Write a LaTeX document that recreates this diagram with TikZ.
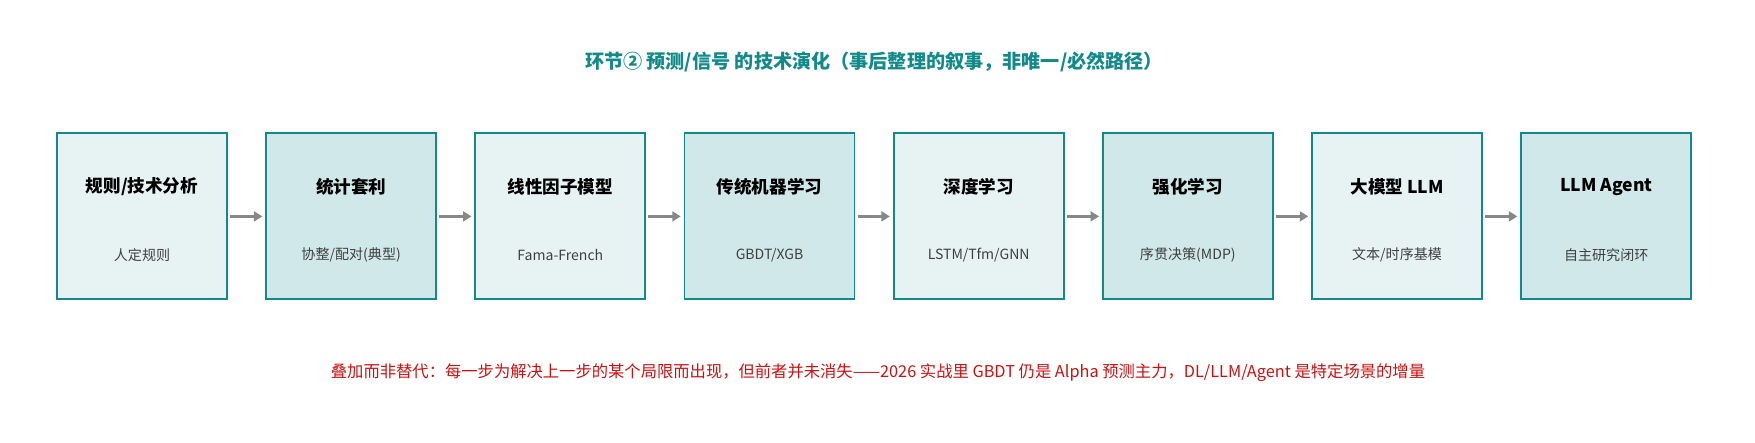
\documentclass[tikz,border=0pt]{standalone}
\usepackage{fontspec}
\setmainfont{Noto Sans CJK SC}
\usetikzlibrary{arrows.meta, positioning}
\definecolor{tealline}{HTML}{138A8A}
\definecolor{fillA}{HTML}{E7F3F3}
\definecolor{fillB}{HTML}{D0E8E9}
\definecolor{noteRed}{HTML}{CC1111}
\definecolor{arrowGray}{HTML}{888888}
\begin{document}
\begin{tikzpicture}[
    stage/.style={draw=tealline, line width=1.4pt, minimum width=4.25cm, minimum height=4.15cm, inner sep=0pt},
    stagetitle/.style={font=\fontsize{12.5}{14}\selectfont\bfseries},
    stagesub/.style={font=\fontsize{10}{12}\selectfont, text=black!75},
    flow/.style={draw=arrowGray, line width=2pt, -{Triangle[length=6pt, width=7pt]}},
    node distance=0.93cm
]
    % Frame
    \useasboundingbox (0,0) rectangle (43.875,-11.05);
    % Title
    \node[font=\fontsize{13.6}{16}\selectfont\bfseries, text=tealline] (title) at (21.85,-1.55)
        {环节② 预测/信号 的技术演化（事后整理的叙事，非唯一/必然路径）};
    % Stages
    \node[stage, fill=fillA] (b1) at (3.55,-5.41) {};
    \node[stage, fill=fillB, right=of b1] (b2) {};
    \node[stage, fill=fillA, right=of b2] (b3) {};
    \node[stage, fill=fillB, right=of b3] (b4) {};
    \node[stage, fill=fillA, right=of b4] (b5) {};
    \node[stage, fill=fillB, right=of b5] (b6) {};
    \node[stage, fill=fillA, right=of b6] (b7) {};
    \node[stage, fill=fillB, right=of b7] (b8) {};
    % Texts
    \foreach \i/\t/\s in {1/{规则/技术分析}/人定规则, 2/统计套利/{协整/配对(典型)}, 3/线性因子模型/Fama-French,
        4/传统机器学习/{GBDT/XGB}, 5/深度学习/{LSTM/Tfm/GNN}, 6/强化学习/序贯决策(MDP),
        7/大模型 LLM/{文本/时序基模}, 8/LLM Agent/自主研究闭环}
    {
        \node[stagetitle] (t\i) at ([yshift=0.74cm]b\i.center) {\t};
        \node[stagesub] (s\i) at ([yshift=-0.96cm]b\i.center) {\s};
    }
    % Arrows
    \foreach \a/\b in {1/2,2/3,3/4,4/5,5/6,6/7,7/8}
    {
        \draw[flow] ([xshift=1.5pt]b\a.east) -- ([xshift=-2pt]b\b.west);
    }
    % Note
    \node[font=\fontsize{11.6}{13}\selectfont, text=noteRed] (note) at (21.95,-9.32)
        {叠加而非替代：每一步为解决上一步的某个局限而出现，但前者并未消失——2026 实战里 GBDT 仍是 Alpha 预测主力，DL/LLM/Agent 是特定场景的增量};
\end{tikzpicture}
\end{document}
